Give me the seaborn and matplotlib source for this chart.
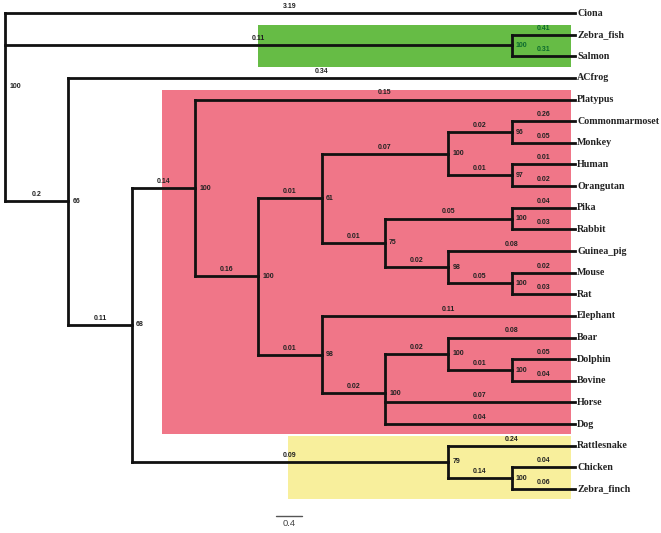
import numpy as np
import pandas as pd
import matplotlib
matplotlib.use("Agg")
import matplotlib.pyplot as plt
import seaborn as sns
from matplotlib.patches import Rectangle

# ---------------- data ----------------
taxa = ["Ciona", "Zebra_fish", "Salmon", "ACfrog", "Platypus", "Commonmarmoset",
        "Monkey", "Human", "Orangutan", "Pika", "Rabbit", "Guinea_pig", "Mouse",
        "Rat", "Elephant", "Boar", "Dolphin", "Bovine", "Horse", "Dog",
        "Rattlesnake", "Chicken", "Zebra_finch"]
tip_lengths = [3.19, 0.41, 0.31, 0.34, 0.15, 0.26, 0.05, 0.01, 0.02, 0.04, 0.03,
               0.08, 0.02, 0.03, 0.11, 0.08, 0.05, 0.04, 0.07, 0.04, 0.24, 0.04, 0.06]

node_names = ["root", "fish", "n66", "n68", "mammals", "n100b", "n61", "primates",
              "marmoset_monkey", "human_orangutan", "n75", "lagomorphs", "rodents",
              "murids", "n98", "n100c", "cetartiodactyls", "cetaceans",
              "sauropsids", "birds"]
node_children = [
    ["Ciona", "fish", "n66"],
    ["Zebra_fish", "Salmon"],
    ["ACfrog", "n68"],
    ["mammals", "sauropsids"],
    ["Platypus", "n100b"],
    ["n61", "n98"],
    ["primates", "n75"],
    ["marmoset_monkey", "human_orangutan"],
    ["Commonmarmoset", "Monkey"],
    ["Human", "Orangutan"],
    ["lagomorphs", "rodents"],
    ["Pika", "Rabbit"],
    ["Guinea_pig", "murids"],
    ["Mouse", "Rat"],
    ["Elephant", "n100c"],
    ["cetartiodactyls", "Horse", "Dog"],
    ["Boar", "cetaceans"],
    ["Dolphin", "Bovine"],
    ["Rattlesnake", "birds"],
    ["Chicken", "Zebra_finch"],
]
node_support = [100, 100, 66, 68, 100, 100, 61, 100, 96, 97, 75, 100, 98, 100,
                98, 100, 100, 100, 79, 100]
node_lengths = [None, 0.11, 0.2, 0.11, 0.14, 0.16, 0.01, 0.07, 0.02, 0.01, 0.01,
                0.05, 0.02, 0.05, 0.01, 0.02, 0.02, 0.01, 0.09, 0.14]

highlight_first = ["Zebra_fish", "Platypus", "Rattlesnake"]
highlight_last = ["Salmon", "Dog", "Zebra_finch"]
scale_label = "0.4"

# ---------------- layout ----------------
children = dict(zip(node_names, node_children))
length = dict(zip(taxa, tip_lengths))
length.update({n: l for n, l in zip(node_names, node_lengths)})
support = dict(zip(node_names, node_support))
tip_index = {t: i for i, t in enumerate(taxa)}

def height(n):
    if n in tip_index:
        return 0
    return 1 + max(height(c) for c in children[n])

H = height("root")
X, Y = {}, {}
def place(n):
    if n in tip_index:
        X[n] = H
        Y[n] = tip_index[n]
        return
    for c in children[n]:
        place(c)
    X[n] = H - height(n)
    Y[n] = np.mean([Y[c] for c in children[n]])
place("root")

rows = []
seg = 0
parent = {}
for n in node_names:
    cs = children[n]
    ys = [Y[c] for c in cs]
    rows += [(seg, X[n], min(ys), 0), (seg, X[n], max(ys), 1)]
    seg += 1
    for c in cs:
        parent[c] = n
        rows += [(seg, X[n], Y[c], 0), (seg, X[c], Y[c], 1)]
        seg += 1
df = pd.DataFrame(rows, columns=["seg", "x", "y", "order"])

# ---------------- figure ----------------
sns.set_theme(style="white")
fig = plt.figure(figsize=(6.61, 5.33), dpi=100)
ax = fig.add_axes([0, 0, 1, 1])

ux = (575 - 5) / H
uy = (489 - 13) / (len(taxa) - 1)
ax.set_xlim(-5 / ux, (661 - 5) / ux)
ax.set_ylim((533 - 13) / uy, -13 / uy)
ax.axis("off")

# clade highlight boxes
box_left = [4.0, 2.48, 4.47]
box_colors = ["#66bc45", "#f07688", "#f8ef9c"]
for f, l, x0, col in zip(highlight_first, highlight_last, box_left, box_colors):
    y0 = tip_index[f] - 0.46
    y1 = tip_index[l] + 0.48
    ax.add_patch(Rectangle((x0, y0), H - 0.06 - x0, y1 - y0, facecolor=col,
                           edgecolor="none", zorder=0))

sns.lineplot(data=df, x="x", y="y", units="seg", estimator=None, sort=False,
             color="#111111", lw=2.0, ax=ax, legend=False,
             solid_capstyle="projecting", zorder=3)
ax.set_xlabel("")
ax.set_ylabel("")

green_nodes = {"fish", "Zebra_fish", "Salmon"}
small = dict(fontsize=5.0, fontweight="bold", family="Liberation Sans")

# branch length labels
for n, p in parent.items():
    col = "#0d6b2e" if (n in green_nodes and n != "fish") else "#222222"
    ax.annotate(f"{length[n]:g}", ((X[p] + X[n]) / 2, Y[n]), xytext=(0, 2.2),
                textcoords="offset points", ha="center", va="bottom",
                color=col, zorder=4, **small)

# support labels
for n in node_names:
    col = "#0d6b2e" if n in green_nodes else "#222222"
    ax.annotate(str(support[n]), (X[n], Y[n]), xytext=(3, 0),
                textcoords="offset points", ha="left", va="center",
                color=col, zorder=4, **small)

# tip labels
for t in taxa:
    ax.annotate(t, (X[t], Y[t]), xytext=(1.5, 0), textcoords="offset points",
                ha="left", va="center", fontsize=7.2, fontweight="bold",
                family="Liberation Serif", color="#222222", zorder=4)

# scale bar
sx0, sx1, sy = (276 - 5) / ux, (302 - 5) / ux, (516 - 13) / uy
ax.plot([sx0, sx1], [sy, sy], color="#555555", lw=1.0)
ax.annotate(scale_label, ((sx0 + sx1) / 2, sy), xytext=(0, -2.5),
            textcoords="offset points", ha="center", va="top",
            fontsize=6.8, family="Liberation Sans", color="#444444")

fig.savefig("out.png", dpi=100)
